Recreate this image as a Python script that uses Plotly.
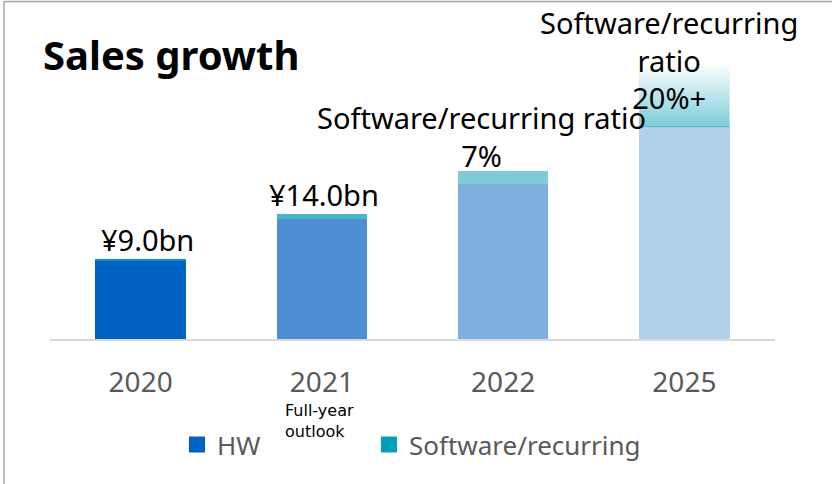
import plotly.graph_objects as go

years = ["2020", "2021", "2022", "2025"]
hw = [8.8, 13.4, 17.4, 23.8]
sw = [0.2, 0.6, 1.4, 7.1]
hw_colors = ["#0062C2", "#4E8FD3", "#80AEDF", "#B4D1EC"]
sw_colors = ["#0099B0", "#47B6C9", "#7FCCD8", "rgba(0,0,0,0)"]
legend_colors = ["#0062C2", "#00A0B8"]
value_labels = ["¥9.0bn", "¥14.0bn", "Software/recurring ratio<br>7%", "Software/recurring<br>ratio<br>20%+"]
sub_label = "Full-year<br>outlook"
legend_names = ["HW", "Software/recurring"]

W, H = 832, 484
ML, MR, MT, MB = 50, 57, 40, 145
ymax = 33.5
bar_w = 0.5
xpos = list(range(len(years)))
pw, ph = W - ML - MR, H - MT - MB

fig = go.Figure()
fig.add_trace(go.Bar(x=xpos, y=hw, width=bar_w, name=legend_names[0], showlegend=False,
                     marker=dict(color=hw_colors, line=dict(width=0))))
fig.add_trace(go.Bar(x=xpos, y=sw, width=bar_w, name=legend_names[1], showlegend=False,
                     marker=dict(color=sw_colors, line=dict(width=0))))

# gradient fill for the last software segment
i = len(years) - 1
x0, x1 = xpos[i] - bar_w / 2, xpos[i] + bar_w / 2
y0, y1 = hw[i], hw[i] + sw[i]
fig.add_trace(go.Scatter(
    x=[x0, x1, x1, x0, x0], y=[y0, y0, y1, y1, y0],
    mode="lines", fill="toself", line=dict(width=0),
    fillgradient=dict(type="vertical", start=y0, stop=y1,
                      colorscale=[[0, "#7ECCD9"], [1, "rgba(255,255,255,1)"]]),
    showlegend=False, hoverinfo="skip"))
fig.add_trace(go.Scatter(x=[x0, x1], y=[y0, y0], mode="lines",
                         line=dict(color="#5DBDD0", width=1.2),
                         showlegend=False, hoverinfo="skip"))

# legend entries (each in its own legend box so they can be placed apart)
for name, col, lg in zip(legend_names, legend_colors, ["legend", "legend2"]):
    fig.add_trace(go.Bar(x=[None], y=[None], name=name, legend=lg,
                         marker=dict(color=col, line=dict(color=col, width=4))))

font_main = "Noto Sans"
shifts = [(7, -2), (2, -2), (-22, -6), (-15, -56)]
for k in range(len(years)):
    fig.add_annotation(x=xpos[k], y=hw[k] + sw[k], text=value_labels[k],
                       showarrow=False, yanchor="bottom", xanchor="center",
                       xshift=shifts[k][0], yshift=shifts[k][1],
                       font=dict(family=font_main, size=29, color="#000000"))

fig.add_annotation(xref="paper", yref="paper", x=(283 - ML) / pw,
                   y=(H - MB - 421) / ph, text=sub_label, showarrow=False,
                   xanchor="left", yanchor="middle", align="left",
                   font=dict(family="DejaVu Sans", size=16, color="#000000"))

fig.add_annotation(xref="paper", yref="paper", x=(171 - ML) / pw,
                   y=(H - MB - 55) / ph, text="Sales growth",
                   showarrow=False, xanchor="center", yanchor="middle",
                   font=dict(family=font_main, size=40, color="#000000", weight="bold"))

fig.add_shape(type="line", xref="paper", yref="paper",
              x0=(4 - ML) / pw, x1=(W - ML) / pw, y0=(H - MB - 1.5) / ph, y1=(H - MB - 1.5) / ph,
              line=dict(color="#A6A6A6", width=1.5))
fig.add_shape(type="line", xref="paper", yref="paper",
              x0=(4 - ML) / pw, x1=(4 - ML) / pw, y0=(H - MB - 1) / ph, y1=(-MB) / ph,
              line=dict(color="#A6A6A6", width=1.5))

legend_style = dict(orientation="h", xanchor="left", yanchor="top",
                    font=dict(family=font_main, size=26, color="#595959"),
                    bgcolor="rgba(0,0,0,0)", itemclick=False, itemdoubleclick=False)

fig.update_layout(
    width=W, height=H, margin=dict(l=ML, r=MR, t=MT, b=MB),
    barmode="stack", bargap=0.5,
    plot_bgcolor="white", paper_bgcolor="white",
    font=dict(family=font_main),
    xaxis=dict(range=[-0.5, len(years) - 0.5], tickmode="array", tickvals=xpos,
               ticktext=years, showgrid=False, zeroline=False,
               showline=True, linecolor="#D9D9D9", linewidth=2,
               ticks="outside", ticklen=17, tickcolor="rgba(0,0,0,0)",
               tickfont=dict(family=font_main, size=28, color="#595959")),
    yaxis=dict(range=[0, ymax], visible=False),
    legend=dict(x=(177 - ML) / pw, y=(H - MB - 421) / ph, **legend_style),
    legend2=dict(x=(369 - ML) / pw, y=(H - MB - 421) / ph, **legend_style),
    showlegend=True,
)

fig.write_html("out.html", config={"displayModeBar": False},
               post_script="document.body.style.margin='0';document.body.style.overflow='hidden';")
